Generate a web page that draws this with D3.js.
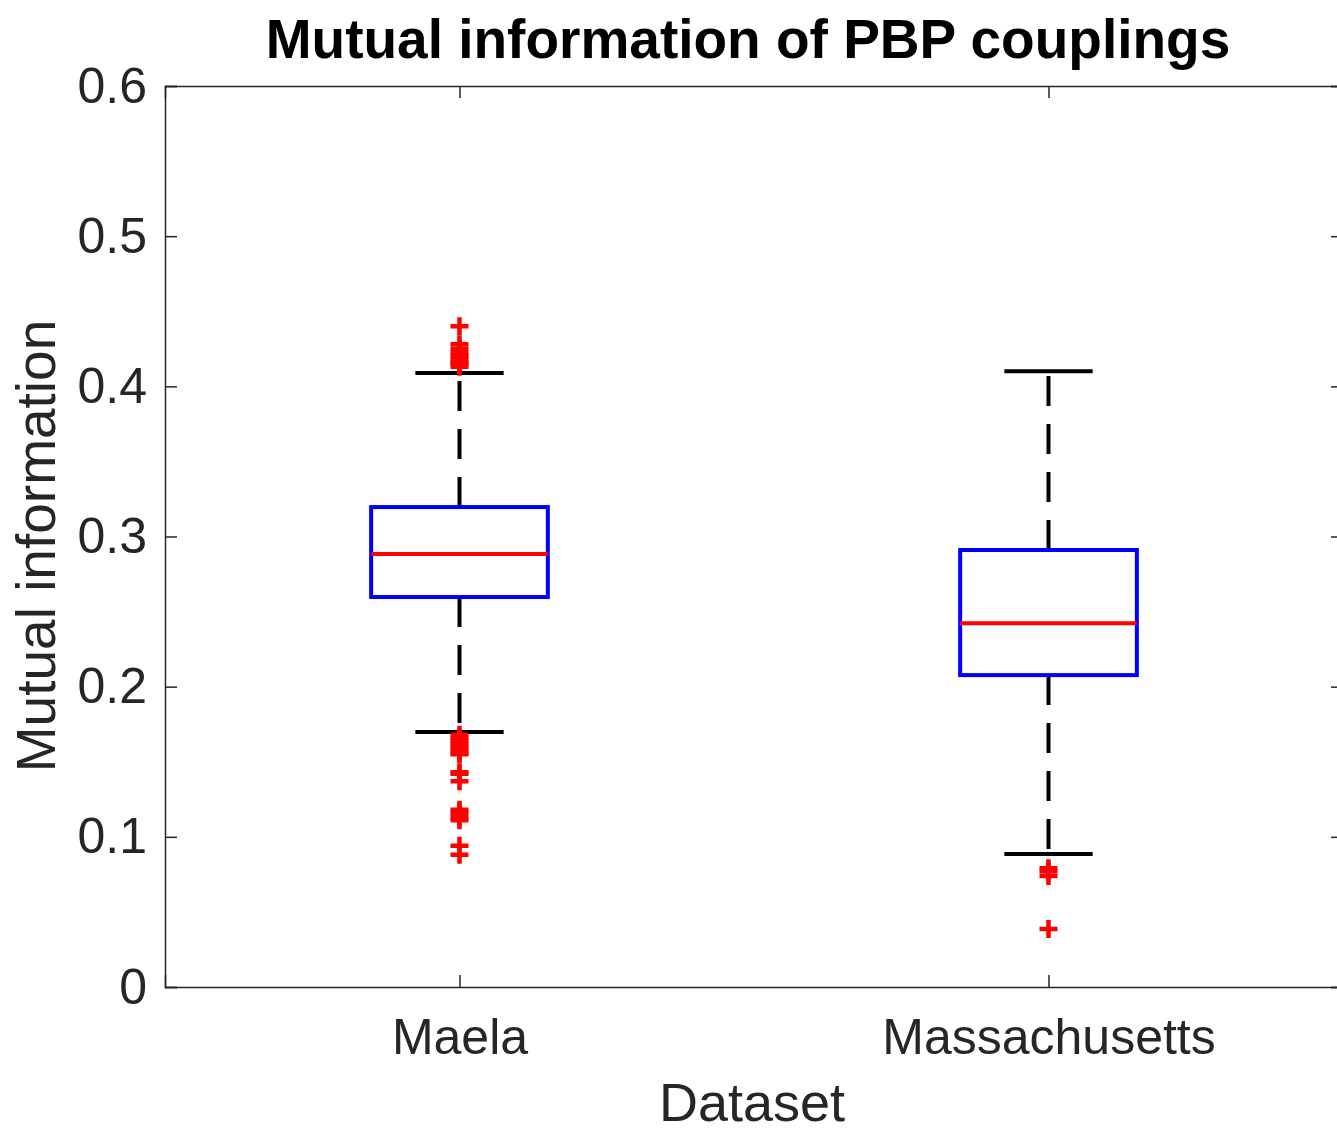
<!DOCTYPE html>
<html>
<head>
<meta charset="utf-8">
<script src="https://cdn.jsdelivr.net/npm/d3@7"></script>
<style>
  body { margin: 0; background: #fff; }
  svg { font-family: "Liberation Sans", Helvetica, Arial, sans-serif; }
</style>
</head>
<body>
<div id="chart"></div>
<script>
// 데이터
const datasets = ["Maela", "Massachusetts"];
const q1Values = [0.2597, 0.2077];
const medianValues = [0.2883, 0.2423];
const q3Values = [0.3196, 0.2910];
const lowerWhiskers = [0.1698, 0.0885];
const upperWhiskers = [0.4088, 0.4100];
const maelaOutliers = [0.440, 0.428, 0.425, 0.422, 0.420, 0.418, 0.416, 0.415, 0.413,
    0.168, 0.166, 0.164, 0.162, 0.160, 0.158, 0.156, 0.155,
    0.143, 0.142, 0.137, 0.118, 0.116, 0.113, 0.111, 0.094, 0.088];
const massOutliers = [0.079, 0.077, 0.074, 0.0386];
const yTicks = [0, 0.1, 0.2, 0.3, 0.4, 0.5, 0.6];

const outliers = [maelaOutliers, massOutliers];

const svgWidth = 1337, svgHeight = 1135;
const margin = {top: 86, left: 165};
const width = 1178;   // 오른쪽 축은 화면 밖으로 약간 잘림
const height = 901;

const svg = d3.select("#chart").append("svg")
    .attr("width", svgWidth)
    .attr("height", svgHeight);

const g = svg.append("g")
    .attr("transform", `translate(${margin.left},${margin.top})`);

const x = d3.scaleLinear().domain([0.5, 2.5]).range([0, width]);
const y = d3.scaleLinear().domain([0, 0.6]).range([height, 0]);

const boxW = x(1.3) - x(1);
const capW = boxW / 2;
const axisColor = "#262626";
const lw = 4;

// 축
const yAxis = g.append("g")
    .call(d3.axisLeft(y).tickValues(yTicks).tickSize(-12).tickPadding(18)
        .tickFormat(d => d === 0 ? "0" : d3.format(".1f")(d)));
const yAxisR = g.append("g")
    .attr("transform", `translate(${width},0)`)
    .call(d3.axisRight(y).tickValues(yTicks).tickSize(-12).tickFormat(""));
const xAxis = g.append("g")
    .attr("transform", `translate(0,${height})`)
    .call(d3.axisBottom(x).tickValues([1, 2]).tickSize(-12).tickPadding(31)
        .tickFormat((d, i) => datasets[i]));
const xAxisT = g.append("g")
    .call(d3.axisTop(x).tickValues([1, 2]).tickSize(-12).tickFormat(""));

[yAxis, yAxisR, xAxis, xAxisT].forEach(a => {
    a.select(".domain").attr("stroke", axisColor).attr("stroke-width", 1.5);
    a.selectAll(".tick line").attr("stroke", axisColor).attr("stroke-width", 1.5);
    a.selectAll("text").attr("fill", axisColor).style("font-size", "50px");
});

// 박스플롯
const boxes = g.selectAll(".box")
    .data(datasets)
    .enter().append("g")
    .attr("class", "box");

// 수염 (점선)
boxes.append("line")
    .attr("x1", (d, i) => x(i + 1)).attr("x2", (d, i) => x(i + 1))
    .attr("y1", (d, i) => y(q3Values[i])).attr("y2", (d, i) => y(upperWhiskers[i]))
    .attr("stroke", "#000").attr("stroke-width", lw).attr("stroke-dasharray", "30,18");
boxes.append("line")
    .attr("x1", (d, i) => x(i + 1)).attr("x2", (d, i) => x(i + 1))
    .attr("y1", (d, i) => y(q1Values[i])).attr("y2", (d, i) => y(lowerWhiskers[i]))
    .attr("stroke", "#000").attr("stroke-width", lw).attr("stroke-dasharray", "30,18");

// 수염 끝
[upperWhiskers, lowerWhiskers].forEach(arr => {
    boxes.append("line")
        .attr("x1", (d, i) => x(i + 1) - capW / 2).attr("x2", (d, i) => x(i + 1) + capW / 2)
        .attr("y1", (d, i) => y(arr[i])).attr("y2", (d, i) => y(arr[i]))
        .attr("stroke", "#000").attr("stroke-width", lw);
});

// 박스
boxes.append("rect")
    .attr("x", (d, i) => x(i + 1) - boxW / 2)
    .attr("width", boxW)
    .attr("y", (d, i) => y(q3Values[i]))
    .attr("height", (d, i) => y(q1Values[i]) - y(q3Values[i]))
    .attr("fill", "none").attr("stroke", "#0000ff").attr("stroke-width", lw);

// 중앙값
boxes.append("line")
    .attr("x1", (d, i) => x(i + 1) - boxW / 2).attr("x2", (d, i) => x(i + 1) + boxW / 2)
    .attr("y1", (d, i) => y(medianValues[i])).attr("y2", (d, i) => y(medianValues[i]))
    .attr("stroke", "#ff0000").attr("stroke-width", lw);

// 이상치 (+ 마커)
outliers.forEach((arr, i) => {
    g.selectAll(".out" + i)
        .data(arr)
        .enter().append("path")
        .attr("class", "out" + i)
        .attr("transform", d => `translate(${x(i + 1)},${y(d)})`)
        .attr("d", "M-9,0H9M0,-9V9")
        .attr("stroke", "#ff0000").attr("stroke-width", 4.5).attr("fill", "none");
});

// 제목과 축 레이블
svg.append("text")
    .attr("x", 748).attr("y", 58)
    .attr("text-anchor", "middle")
    .style("font-size", "55px").style("font-weight", "bold")
    .text("Mutual information of PBP couplings");

svg.append("text")
    .attr("x", 752).attr("y", 1121)
    .attr("text-anchor", "middle")
    .attr("fill", axisColor)
    .style("font-size", "54px")
    .text("Dataset");

svg.append("text")
    .attr("transform", "translate(55,546) rotate(-90)")
    .attr("text-anchor", "middle")
    .attr("fill", axisColor)
    .style("font-size", "55px")
    .text("Mutual information");
</script>
</body>
</html>
